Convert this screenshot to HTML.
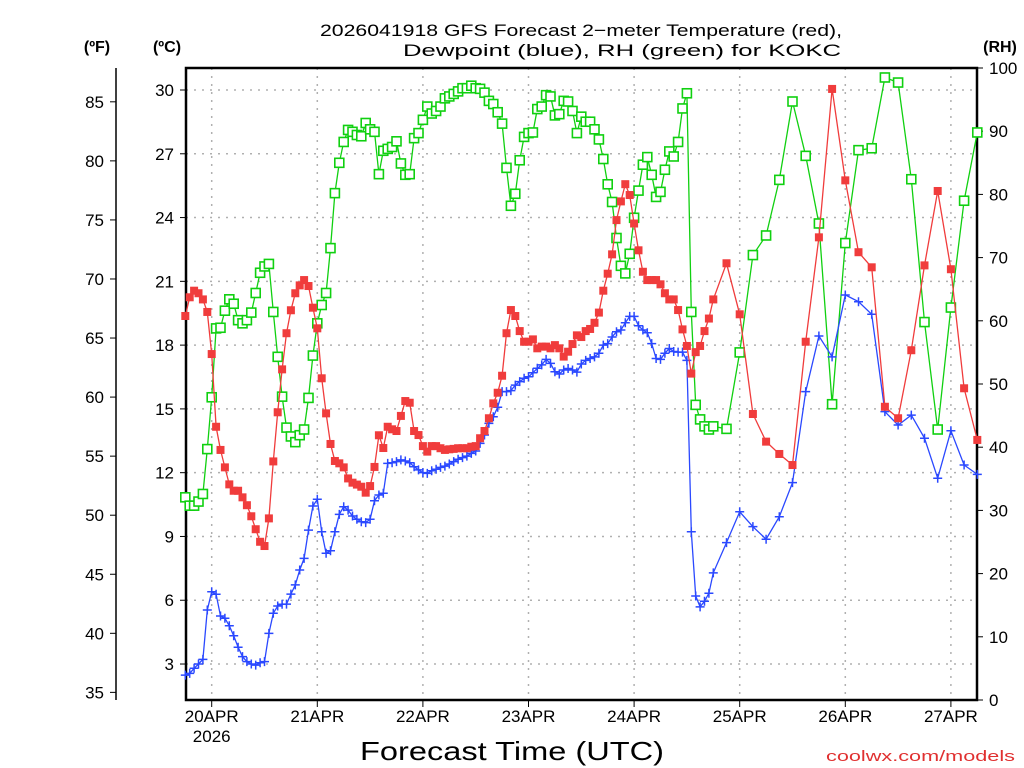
<!DOCTYPE html>
<html><head><meta charset="utf-8">
<style>
html,body{margin:0;padding:0;background:#fff;}
svg{display:block;font-family:"Liberation Sans","DejaVu Sans",sans-serif;}
</style></head>
<body>
<svg id="chart" width="1024" height="768" viewBox="0 0 1024 768" xmlns="http://www.w3.org/2000/svg">
<rect x="0" y="0" width="1024" height="768" fill="#fff"/>
<text x="581" y="36" font-size="17" text-anchor="middle" textLength="522" lengthAdjust="spacingAndGlyphs" fill="#000">2026041918 GFS Forecast 2−meter Temperature (red),</text>
<text x="622" y="56" font-size="17" text-anchor="middle" textLength="438" lengthAdjust="spacingAndGlyphs" fill="#000">Dewpoint (blue), RH (green) for KOKC</text>
<text x="97" y="52" font-size="16" font-weight="bold" text-anchor="middle">(ºF)</text>
<text x="167" y="52" font-size="16" font-weight="bold" text-anchor="middle">(ºC)</text>
<text x="1000" y="52" font-size="16" font-weight="bold" text-anchor="middle">(RH)</text>
<text x="512" y="760" font-size="26" text-anchor="middle" textLength="304" lengthAdjust="spacingAndGlyphs">Forecast Time (UTC)</text>
<text x="1015" y="761" font-size="15" text-anchor="end" fill="#e03030" textLength="189" lengthAdjust="spacingAndGlyphs">coolwx.com/models</text>
<g id="grid"></g>
<g id="axes"></g>
<g id="series"></g>
</svg>
<script>
const hours=[0,1,2,3,4,5,6,7,8,9,10,11,12,13,14,15,16,17,18,19,20,21,22,23,24,25,26,27,28,29,30,31,32,33,34,35,36,37,38,39,40,41,42,43,44,45,46,47,48,49,50,51,52,53,54,55,56,57,58,59,60,61,62,63,64,65,66,67,68,69,70,71,72,73,74,75,76,77,78,79,80,81,82,83,84,85,86,87,88,89,90,91,92,93,94,95,96,97,98,99,100,101,102,103,104,105,106,107,108,109,110,111,112,113,114,115,116,117,118,119,120,123,126,129,132,135,138,141,144,147,150,153,156,159,162,165,168,171,174,177,180];
const tempC=[19.37,20.25,20.56,20.44,20.15,19.56,17.58,14.16,13.07,12.25,11.45,11.15,11.15,10.84,10.47,9.95,9.34,8.75,8.55,9.85,12.53,14.84,16.86,18.56,19.64,20.44,20.81,21.06,20.78,19.76,18.79,16.44,14.79,13.35,12.55,12.44,12.25,11.73,11.53,11.44,11.34,11.06,11.37,12.27,13.76,13.16,14.16,14.04,13.96,14.67,15.37,15.29,13.96,13.77,13.25,12.99,13.25,13.25,13.15,13.07,13.1,13.12,13.15,13.15,13.15,13.22,13.25,13.62,13.96,14.56,15.26,15.76,16.56,18.56,19.65,19.37,18.66,18.16,18.16,18.27,17.85,17.93,17.93,17.85,18.0,17.85,17.46,17.69,18.05,18.46,18.38,18.66,18.76,19.05,19.53,20.56,21.36,22.27,23.88,24.76,25.57,25.06,23.72,22.46,21.45,21.06,21.06,21.06,20.86,20.44,20.15,20.15,19.65,18.74,17.96,16.66,17.67,17.96,18.66,19.25,20.15,21.85,19.45,14.76,13.46,12.88,12.36,18.16,23.07,30.05,25.75,22.37,21.66,15.10,14.56,17.76,21.75,25.25,21.57,15.97,13.54];
const dewC=[2.48,2.56,2.80,3.00,3.22,5.54,6.40,6.28,5.26,5.15,4.80,4.33,3.79,3.35,3.11,3.00,2.95,3.06,3.11,4.44,5.39,5.73,5.81,5.82,6.29,6.72,7.42,7.97,9.30,10.43,10.75,9.22,8.21,8.33,9.22,10.04,10.40,10.24,9.96,9.81,9.69,9.65,9.81,10.68,10.95,11.03,12.44,12.47,12.52,12.60,12.55,12.47,12.28,12.13,12.00,11.97,12.09,12.16,12.25,12.31,12.41,12.52,12.63,12.71,12.78,12.91,13.02,13.38,13.77,14.32,14.63,15.08,15.81,15.81,15.86,16.12,16.28,16.44,16.51,16.70,16.91,17.07,17.33,17.14,16.75,16.64,16.83,16.9,16.83,16.73,17.11,17.28,17.37,17.45,17.62,18.0,18.07,18.38,18.63,18.71,19.05,19.35,19.35,18.91,18.71,18.58,18.07,17.37,17.33,17.62,17.84,17.70,17.67,17.67,17.28,9.22,6.20,5.69,5.95,6.33,7.29,8.71,10.16,9.46,8.87,9.93,11.53,15.81,18.43,17.45,20.36,20.04,19.45,14.87,14.24,14.71,13.62,11.74,13.97,12.36,11.92];
const rhPct=[32.07,30.75,30.75,31.4,32.6,39.7,47.9,58.8,58.9,61.6,63.4,62.7,60.1,59.6,60.1,61.3,64.4,67.6,68.6,69.0,61.4,54.3,48.0,43.1,41.7,40.8,41.9,42.8,47.8,54.5,59.6,62.5,64.4,71.5,80.2,85.0,88.3,90.2,89.9,89.4,89.2,91.3,90.3,89.9,83.2,86.9,87.2,87.5,88.4,84.9,83.1,83.2,88.9,89.7,91.8,93.9,92.8,93.2,93.9,95.2,95.5,95.9,96.3,96.8,96.8,97.2,96.8,96.7,96.1,94.8,94.3,93.0,91.2,84.2,78.2,80.1,85.4,89.1,89.7,89.8,93.5,93.9,95.7,95.5,92.5,92.7,94.8,94.7,93.2,89.7,92.3,91.5,91.5,90.3,88.7,85.6,81.6,78.8,73.1,68.7,67.5,70.6,76.3,80.6,84.7,85.9,83.1,79.6,80.4,83.9,86.8,86.0,88.3,93.6,96.0,61.4,46.7,44.4,43.3,42.8,43.3,42.9,55.0,70.4,73.5,82.3,94.7,86.1,75.4,46.8,72.3,87.0,87.3,98.5,97.7,82.4,59.8,42.8,62.1,79.0,89.8];
const dayLabels=["20APR","21APR","22APR","23APR","24APR","25APR","26APR","27APR"];
const dayHours=[6,30,54,78,102,126,150,174];
const cTicks=[3,6,9,12,15,18,21,24,27,30];
const fTicks=[35,40,45,50,55,60,65,70,75,80,85];
const rhTicks=[0,10,20,30,40,50,60,70,80,90,100];

const NS="http://www.w3.org/2000/svg";
const L=186,R=977,T=68,B=700;
function xH(h){return 185.3+4.4*h;}
function yC(c){return 727.8-21.26*c;}
function yF(f){return yC((f-32)*5/9);}
function yRH(r){return B-(B-T)*r/100;}
function mk(tag,attrs,parent){const e=document.createElementNS(NS,tag);for(const k in attrs)e.setAttribute(k,attrs[k]);parent.appendChild(e);return e;}
const grid=document.getElementById('grid'),axes=document.getElementById('axes'),series=document.getElementById('series');

cTicks.forEach(c=>{const y=yC(c);
 const g=mk('line',{x1:L,x2:R,y1:y,y2:y,stroke:'#b0b0b0','stroke-width':1.5,'stroke-dasharray':'2 6'},grid);
 
 
 mk('line',{x1:L-6,x2:L,y1:y,y2:y,stroke:'#000','stroke-width':1},axes);
 const t=mk('text',{x:L-12,y:y+6,'font-size':17,'text-anchor':'end'},axes);t.textContent=c;
 
 
});
dayHours.forEach((h,i)=>{const x=xH(h);
 const g=mk('line',{x1:x,x2:x,y1:T,y2:B,stroke:'#b0b0b0','stroke-width':1.5,'stroke-dasharray':'2 6'},grid);
 
 
 mk('line',{x1:x,x2:x,y1:B,y2:B+7,stroke:'#000','stroke-width':1},axes);
 const t=mk('text',{x:x,y:722,'font-size':17,'text-anchor':'middle'},axes);t.textContent=dayLabels[i];
 
 
});
const yr=mk('text',{x:xH(6),y:742,'font-size':17,'text-anchor':'middle'},axes);yr.textContent='2026';


// F axis
mk('line',{x1:116,x2:116,y1:T,y2:B,stroke:'#000','stroke-width':1.5},axes);
fTicks.forEach(f=>{const y=yF(f);
 mk('line',{x1:110,x2:116,y1:y,y2:y,stroke:'#000','stroke-width':1},axes);
 const t=mk('text',{x:104,y:y+6,'font-size':17,'text-anchor':'end'},axes);t.textContent=f;
 
 
});
rhTicks.forEach(r=>{const y=yRH(r);
 mk('line',{x1:R,x2:R+6,y1:y,y2:y,stroke:'#000','stroke-width':1},axes);
 const t=mk('text',{x:989,y:y+6,'font-size':17,'text-anchor':'start'},axes);t.textContent=r;
 
 
});
const fr=mk('rect',{x:L,y:T,width:R-L,height:B-T,fill:'none',stroke:'#000','stroke-width':2.5},axes);



function drawSeries(vals,yf,color,kind,name){
 const g=mk('g',{},series);
 
 
 const pts=hours.map((h,i)=>xH(h).toFixed(1)+','+yf(vals[i]).toFixed(1)).join(' ');
 mk('polyline',{points:pts,fill:'none',stroke:color,'stroke-width':1.3},g);
 hours.forEach((h,i)=>{const x=xH(h),y=yf(vals[i]);let m;
  if(kind==='fill'){m=mk('rect',{x:x-4,y:y-4,width:8,height:8,fill:color},g);}
  else if(kind==='open'){m=mk('rect',{x:x-4.5,y:y-4.5,width:9,height:9,fill:'#fff',stroke:color,'stroke-width':1.6},g);}
  else{m=mk('path',{d:`M${x-4.5},${y}H${x+4.5}M${x},${y-4.5}V${y+4.5}`,stroke:color,'stroke-width':1.5,fill:'none'},g);}
  
  
 });
}
drawSeries(rhPct,yRH,'#10d010','open','rh-series');
drawSeries(dewC,yC,'#2a48ff','cross','dewpoint-series');
drawSeries(tempC,yC,'#f03c3c','fill','temperature-series');
</script>
</body></html>
